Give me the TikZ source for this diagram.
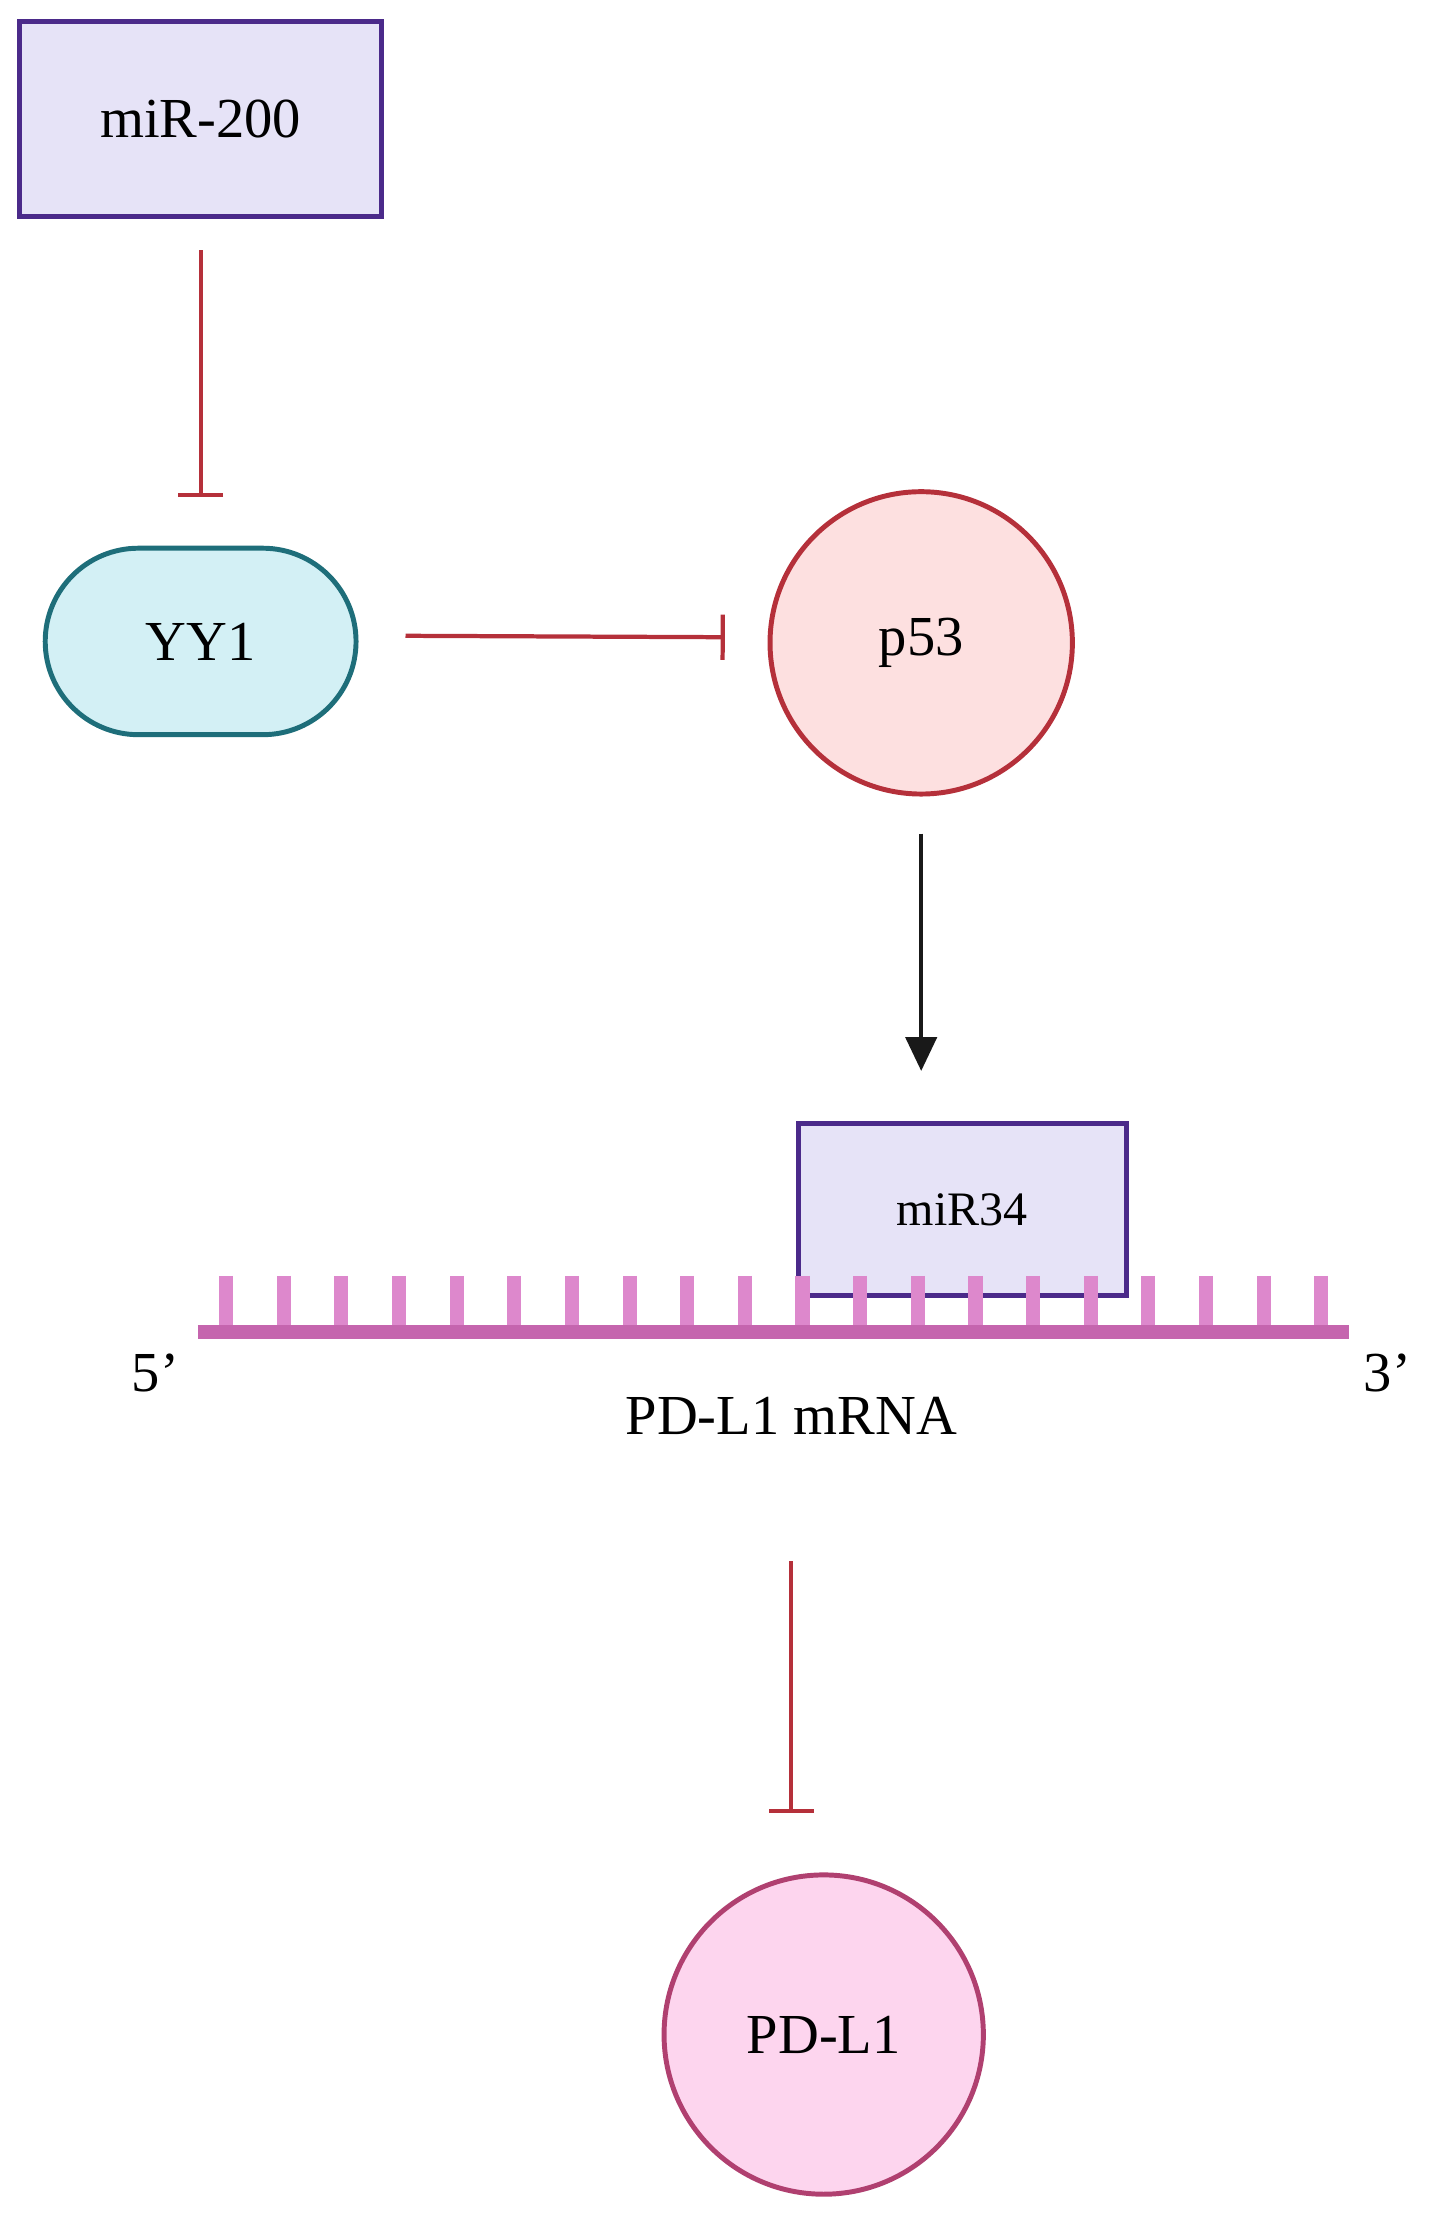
\documentclass[tikz,border=0pt]{standalone}
\usepackage{fontspec}
\setmainfont{Liberation Serif}
\usetikzlibrary{arrows.meta}
\definecolor{lav}{HTML}{E6E3F7}
\definecolor{purp}{HTML}{4B2A8A}
\definecolor{inh}{HTML}{B5303A}
\definecolor{cyanf}{HTML}{D3F0F5}
\definecolor{cyand}{HTML}{1E6E7A}
\definecolor{pinkf}{HTML}{FDE0E0}
\definecolor{pdf}{HTML}{FDD5EE}
\definecolor{pdd}{HTML}{B04070}
\definecolor{rna}{HTML}{C565AE}
\definecolor{tooth}{HTML}{DD88CC}
\begin{document}
\begin{tikzpicture}[x=1pt,y=-1pt,
  inhib/.style={draw=inh,line width=3pt,-{Bar[width=32pt]}},
  act/.style={draw=black!90,line width=3pt,-{Triangle[width=22pt,length=24pt]}},
  lbl/.style={font=\fontsize{40}{48}\selectfont}]
\useasboundingbox (0,0) rectangle (1020,1584);
\node[draw=purp,fill=lav,line width=3.5pt,minimum width=256pt,minimum height=138pt,lbl] (mir200) at (142,84) {miR-200};
\node[draw=cyand,fill=cyanf,line width=3.5pt,minimum width=220pt,minimum height=132pt,rounded corners=66pt,lbl] (yy1) at (142,454) {YY1};
\node[draw=inh,fill=pinkf,line width=3.5pt,circle,minimum size=214pt,lbl] (p53) at (652,455) {p53};
\node[draw=purp,fill=lav,line width=3.5pt,minimum width=232pt,minimum height=122pt,font=\fontsize{34}{40}\selectfont] (mir34) at (681,856) {miR34};
\foreach \i in {0,...,19}{\draw[tooth,line width=10pt] (160+40.8*\i,903) -- (160+40.8*\i,943);}
\coordinate (r1) at (140,943); \coordinate (r2) at (955,943);
\draw[rna,line width=10pt] (r1) -- (r2);
\node[lbl] (five) at (110,972) {5'};
\node[lbl] (three) at (982,972) {3'};
\node[lbl] (mrna) at (560,1002) {PD-L1 mRNA};
\node[draw=pdd,fill=pdf,line width=3.5pt,circle,minimum size=226pt,lbl] (pdl1) at (583,1440) {PD-L1};
\coordinate (a1) at (142,177); \coordinate (a2) at (142,352);
\draw[inhib] (a1) -- (a2);
\coordinate (b1) at (287,450); \coordinate (b2) at (513,451);
\draw[inhib] (b1) -- (b2);
\coordinate (c1) at (652,590); \coordinate (c2) at (652,758);
\draw[act] (c1) -- (c2);
\coordinate (d1) at (560,1105); \coordinate (d2) at (560,1283);
\draw[inhib] (d1) -- (d2);
\end{tikzpicture}
\end{document}
